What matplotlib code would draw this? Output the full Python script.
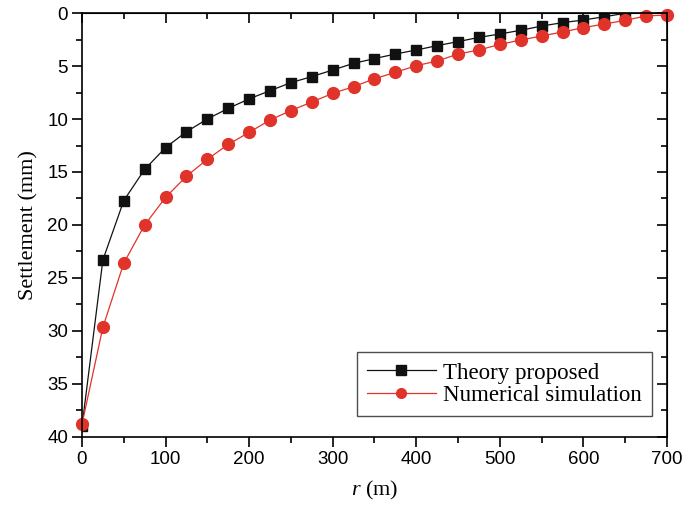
import matplotlib
matplotlib.use("Agg")
import matplotlib.pyplot as plt
from matplotlib.ticker import MultipleLocator

plt.rcParams["mathtext.fontset"] = "custom"
plt.rcParams["mathtext.it"] = "Liberation Serif:italic"
plt.rcParams["mathtext.rm"] = "Liberation Serif"

# Radial distance r (m)
r_theory = [0, 25, 50, 75, 100, 125, 150, 175, 200, 225, 250, 275, 300, 325,
            350, 375, 400, 425, 450, 475, 500, 525, 550, 575, 600, 625, 650]
r_numerical = [0, 25, 50, 75, 100, 125, 150, 175, 200, 225, 250, 275, 300, 325,
               350, 375, 400, 425, 450, 475, 500, 525, 550, 575, 600, 625, 650,
               675, 700]

# Settlement (mm)
settlement_theory = [39.0, 23.3, 17.7, 14.75, 12.7, 11.2, 10.0, 9.0, 8.1, 7.33,
                     6.57, 6.0, 5.38, 4.75, 4.3, 3.87, 3.49, 3.08, 2.7, 2.3,
                     1.98, 1.63, 1.23, 0.91, 0.66, 0.35, 0.03]
settlement_numerical = [38.8, 29.65, 23.6, 20.0, 17.4, 15.4, 13.8, 12.4, 11.26,
                        10.1, 9.2, 8.4, 7.58, 6.95, 6.2, 5.6, 4.97, 4.53, 3.87,
                        3.49, 2.96, 2.55, 2.17, 1.79, 1.38, 1.04, 0.69, 0.28,
                        0.19]

labels = ["Theory proposed", "Numerical simulation"]

sans = ["Liberation Sans", "DejaVu Sans"]
serif = ["Liberation Serif", "DejaVu Serif"]

fig = plt.figure(figsize=(6.82, 5.12), dpi=100)
ax = fig.add_axes([0.1202, 0.1465, 0.8578, 0.8281])

ax.plot(r_theory, settlement_theory, color="#111111", lw=0.9, marker="s",
        ms=7, mfc="#111111", mec="#111111", label=labels[0], clip_on=True,
        zorder=3)
ax.plot(r_numerical, settlement_numerical, color="#e0332a", lw=0.9, marker="o",
        ms=8.5, mfc="#e0332a", mec="#e0332a", label=labels[1], clip_on=False,
        zorder=4)

ax.set_xlim(0, 700)
ax.set_ylim(40, 0)
ax.xaxis.set_major_locator(MultipleLocator(100))
ax.xaxis.set_minor_locator(MultipleLocator(50))
ax.yaxis.set_major_locator(MultipleLocator(5))
ax.yaxis.set_minor_locator(MultipleLocator(2.5))

for s in ax.spines.values():
    s.set_linewidth(1.2)
    s.set_zorder(5)

ax.tick_params(which="both", direction="out", width=1.2, top=False, right=False)
ax.tick_params(which="major", length=7, labelsize=13.5, pad=3)
ax.tick_params(which="minor", length=4)
for lab in ax.get_xticklabels() + ax.get_yticklabels():
    lab.set_fontfamily(sans)

# inward ticks on the top and right edges
secx = ax.secondary_xaxis("top")
secx.xaxis.set_major_locator(MultipleLocator(100))
secx.xaxis.set_minor_locator(MultipleLocator(50))
secx.tick_params(which="both", direction="in", width=1.2, labeltop=False)
secx.tick_params(which="major", length=7)
secx.tick_params(which="minor", length=4)
secy = ax.secondary_yaxis("right")
secy.yaxis.set_major_locator(MultipleLocator(5))
secy.yaxis.set_minor_locator(MultipleLocator(2.5))
secy.tick_params(which="both", direction="in", width=1.2, labelright=False)
secy.tick_params(which="major", length=7)
secy.tick_params(which="minor", length=4)

ax.set_ylabel("Settlement (mm)", fontfamily=serif, fontsize=16, labelpad=6)
ax.set_xlabel(r"$\mathit{r}$ (m)", fontfamily=serif, fontsize=16, labelpad=8)

leg = ax.legend(loc="lower right", bbox_to_anchor=(0.974, 0.0495),
                prop={"family": serif, "size": 16.5}, frameon=True,
                fancybox=False, edgecolor="#222222", borderpad=0.45,
                handlelength=3.0, handletextpad=0.3, labelspacing=0.05,
                borderaxespad=0)
leg.get_frame().set_linewidth(1.0)
for h in leg.legend_handles:
    h.set_markersize(7)

fig.savefig("out.png", dpi=100)
